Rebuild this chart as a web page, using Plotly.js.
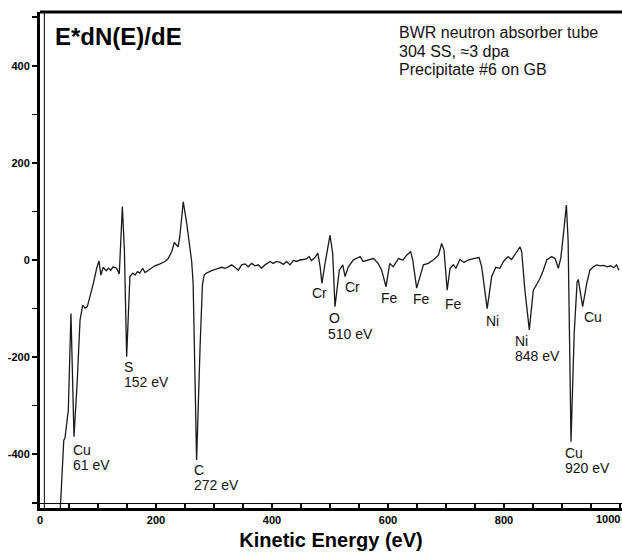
<!DOCTYPE html>
<html>
<head>
<meta charset="utf-8">
<script src="https://cdn.plot.ly/plotly-3.0.1.min.js"></script>
<style>html,body{margin:0;padding:0;background:#fff;}#chart{width:622px;height:557px;}</style>
</head>
<body>
<div id="chart"></div>
<script>
// Kinetic energy (eV) and E*dN(E)/dE values
const energy = [
  33, 41, 43, 45, 48.8, 53.4, 58.6, 64.3, 69, 73.6, 77.6, 81.6, 85, 92, 97.7, 101.7, 105,
  109, 114, 118, 122, 126, 132, 136.7, 142, 145.5, 149.4, 155, 160, 164, 168, 172, 177, 181,
  187, 192.6, 198, 207, 215.5, 221, 227, 231.6, 235.6, 238, 241, 247, 253, 258.6, 261.5,
  264, 266.5, 270, 276, 280, 283, 287, 296, 301.7, 307.5, 313, 319, 324.7, 330.5, 336, 342,
  347.7, 353.4, 359, 365, 370.7, 376.4, 382, 388, 396.5, 402, 408, 414, 419.5, 425, 431,
  436.7, 442.6, 448, 454, 460, 464, 468, 474, 479, 483, 486, 491, 500, 504.6, 508.6, 516,
  522, 526, 531.6, 540, 552, 557, 566, 575, 583, 589, 596.6, 603, 609, 618, 626, 632, 639,
  642.6, 649.4, 655, 661, 669.5, 678, 687, 692.5, 696.5, 702, 707, 712.6, 717, 724, 731,
  738, 747, 757, 761.5, 765.5, 771, 778.7, 786, 793, 799, 807, 813, 822, 827.6, 830.5, 836,
  843.6, 850.5, 856, 862, 867.8, 873.6, 882, 888, 893.6, 898, 903, 907.5, 910.5, 915.5,
  921, 926, 928, 935.6, 942.6, 948, 954, 960, 966, 972, 978, 984, 989, 994, 998
];
const signal = [
  -560, -371, -367, -345, -309, -110, -364, -247, -124, -93, -99, -96, -82, -48, -17, -2, -31,
  -15, -22, -17, -21, -14, -17, -29, 110, 20, -199, -34, -27, -31, -24, -27, -17, -26,
  -21, -17, -12, -8, -3, 3, 17, 36, 31, 27, 48, 120, 75, 24, -3,
  -48, -200, -412, -178, -51, -31, -27, -22, -19, -17, -15, -17, -14, -10, -15, -21,
  -10, -8, -14, -7, -12, -10, -17, -10, -3, -7, -3, -5, -9, -3, -10,
  -1, -3, 0, 1, 3, 7, -1, 5, 14, -14, -48, -10, 51, 14, -96, -21,
  -10, -34, -14, 0, 7, -3, 0, 3, -7, -21, -55, -7, -14, 3, 0, 10, 17,
  0, -58, -34, -10, -7, 0, 10, 34, 21, -62, -17, -10, -17, 1, -5,
  0, 3, 5, -14, -55, -100, -34, -15, -17, -3, 7, 1, 17, 27, 17, -62,
  -144, -62, -51, -38, -21, 0, 7, 3, -17, 5, 60, 113, 40, -374,
  -150, -45, -40, -96, -48, -21, -14, -10, -12, -11, -14, -12, -16, -10, -21
];

// Peak labels: text, energy position, value position
const peakText = ["Cu", "61 eV", "S", "152 eV", "C", "272 eV", "Cr", "O", "510 eV", "Cr",
                  "Fe", "Fe", "Fe", "Ni", "Ni", "848 eV", "Cu", "Cu", "920 eV"];
const peakX = [53.4, 53.4, 141.4, 141.4, 262, 262, 465.5, 494.8, 493, 522.4,
               584.5, 639.7, 694.8, 765.5, 815.5, 815.5, 934.5, 901.7, 901.7];
const peakY = [-391, -422, -220, -251, -432, -463, -68, -119, -152, -56,
               -78, -80, -91, -126, -167, -198, -117, -397, -428];

const xTicks = [0, 200, 400, 600, 800, 1000];
const xTickText = ["0", "200", "400", "600", "800", ""];
const yTicks = [-400, -200, 0, 200, 400];

const infoLines = ["BWR neutron absorber tube", "304 SS, \u22483 dpa", "Precipitate #6 on GB"];
const infoY = [0.9577, 0.9204, 0.8831];

const FONT = "Liberation Sans, Arial, Helvetica, sans-serif";

const annotations = [];
for (let i = 0; i < peakText.length; i++) {
  annotations.push({
    x: peakX[i], y: peakY[i], xref: "x", yref: "y", text: peakText[i],
    showarrow: false, xanchor: "left", yanchor: "middle",
    font: {family: FONT, size: 14, color: "#111"}
  });
}
for (let i = 0; i < infoLines.length; i++) {
  annotations.push({
    x: 0.613, y: infoY[i], xref: "paper", yref: "paper", text: infoLines[i],
    showarrow: false, xanchor: "left", yanchor: "middle",
    font: {family: FONT, size: 16, color: "#111"}
  });
}
annotations.push({
  x: 0.0223, y: 0.9516, xref: "paper", yref: "paper", text: "E*dN(E)/dE",
  showarrow: false, xanchor: "left", yanchor: "middle",
  font: {family: FONT, size: 24, color: "#000", weight: "bold"}
});
// last x tick label, kept inside the page like the reference
annotations.push({
  x: 1, y: 0, xref: "paper", yref: "paper", text: "1000",
  showarrow: false, xanchor: "right", yanchor: "top", yshift: -3,
  font: {family: FONT, size: 11, color: "#000", weight: "bold"}
});

const trace = {
  x: energy, y: signal, type: "scatter", mode: "lines",
  line: {color: "#1a1a1a", width: 1.3},
  hoverinfo: "skip", showlegend: false, cliponaxis: true
};

const layout = {
  width: 622, height: 557,
  margin: {l: 40, r: 0, t: 12, b: 49},
  paper_bgcolor: "#fff", plot_bgcolor: "#fff",
  showlegend: false,
  xaxis: {
    range: [0, 1003.4], tickvals: xTicks, ticktext: xTickText,
    ticks: "inside", ticklen: 5, tickwidth: 1.5, tickcolor: "#000",
    minor: {dtick: 50, ticks: "inside", ticklen: 5, tickwidth: 1.5, tickcolor: "#000", showgrid: false},
    showline: true, linewidth: 3, linecolor: "#000",
    showgrid: false, zeroline: false,
    tickfont: {family: FONT, size: 11, color: "#000", weight: "bold"},
    title: {text: "Kinetic Energy (eV)", standoff: 8,
            font: {family: FONT, size: 20, color: "#000", weight: "bold"}},
    automargin: false, fixedrange: true
  },
  yaxis: {
    range: [-510.7, 510.7], tickvals: yTicks, ticktext: yTicks.map(String),
    ticks: "outside", ticklen: 5, tickwidth: 1.5, tickcolor: "#000",
    minor: {dtick: 100, ticks: "outside", ticklen: 5, tickwidth: 1.5, tickcolor: "#000", showgrid: false},
    showline: true, linewidth: 3, linecolor: "#000",
    showgrid: false, zeroline: false,
    tickfont: {family: FONT, size: 11, color: "#000", weight: "bold"},
    automargin: false, fixedrange: true
  },
  annotations: annotations,
  shapes: [
    {type: "line", xref: "paper", yref: "paper", x0: 0, x1: 1, y0: 1, y1: 1,
     line: {color: "#000", width: 3}},
    {type: "line", xref: "paper", yref: "paper", x0: 0.0075, x1: 0.0075, y0: 0, y1: 1,
     line: {color: "#000", width: 1}},
    {type: "line", xref: "paper", yref: "paper", x0: 0, x1: 1, y0: 0.009, y1: 0.009,
     line: {color: "#000", width: 1}}
  ]
};

Plotly.newPlot("chart", [trace], layout, {displayModeBar: false, staticPlot: true});
</script>
</body>
</html>
